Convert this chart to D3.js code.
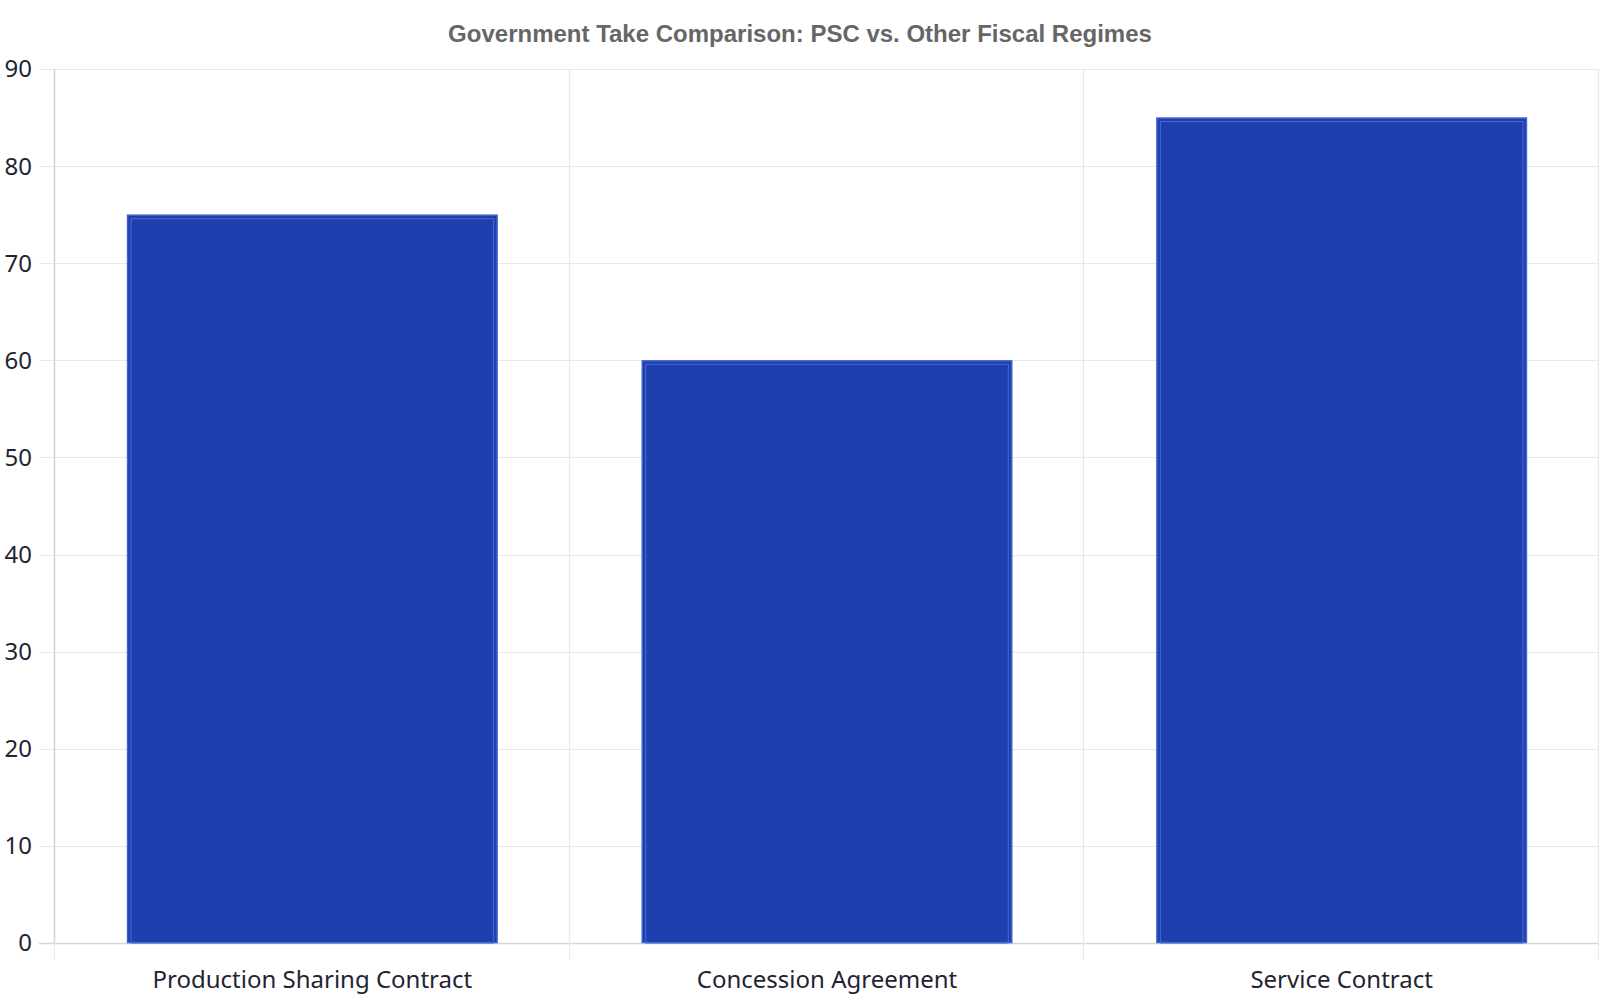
<!DOCTYPE html>
<html>
<head>
<meta charset="utf-8">
<script src="https://cdn.jsdelivr.net/npm/d3@7"></script>
<style>
html,body{margin:0;padding:0;background:#fff;}
svg{display:block;}
</style>
</head>
<body>
<svg id="chart" width="1600" height="1000"></svg>
<script>
const categories = ["Production Sharing Contract", "Concession Agreement", "Service Contract"];
const governmentTake = [75, 60, 85];
const yTicks = [0, 10, 20, 30, 40, 50, 60, 70, 80, 90];
const titleText = "Government Take Comparison: PSC vs. Other Fiscal Regimes";

const W = 1600, H = 1000;
const m = {left: 55, right: 1, top: 69, bottom: 57};
const svg = d3.select("#chart");

const x = d3.scaleBand().domain(categories).range([m.left, W - m.right]).paddingInner(0.28).paddingOuter(0.14);
const xb = d3.scaleBand().domain(categories).range([m.left, W - m.right]).padding(0);
const y = d3.scaleLinear().domain([0, 90]).range([H - m.bottom, m.top]);

// title
svg.append("text").attr("x", W / 2).attr("y", 42).attr("text-anchor", "middle")
  .attr("font-family", "'Liberation Sans', Arial, sans-serif").attr("font-weight", "bold")
  .attr("font-size", 24).attr("fill", "#666666").text(titleText);

// horizontal grid lines
const gGrid = svg.append("g");
gGrid.selectAll("line.h").data(yTicks).join("line")
  .attr("x1", 39).attr("x2", W - m.right)
  .attr("y1", d => Math.round(y(d)) + 0.5).attr("y2", d => Math.round(y(d)) + 0.5)
  .attr("stroke", d => d === 0 ? "#d6d6d6" : "#e8e8e8").attr("stroke-width", d => d === 0 ? 1.5 : 1.2);

// vertical grid lines at band boundaries
const boundaries = categories.map(c => xb(c)).concat([xb(categories[categories.length - 1]) + xb.bandwidth()]);
gGrid.selectAll("line.v").data(boundaries).join("line")
  .attr("x1", d => Math.round(d) - 0.5).attr("x2", d => Math.round(d) - 0.5)
  .attr("y1", m.top).attr("y2", H - m.bottom + 16)
  .attr("stroke", "#e8e8e8").attr("stroke-width", 1.2);
// left axis line
svg.append("line").attr("x1", m.left - 0.5).attr("x2", m.left - 0.5)
  .attr("y1", m.top).attr("y2", y(0)).attr("stroke", "#d3d3d3").attr("stroke-width", 1.5);

// y tick labels
svg.append("g").selectAll("text").data(yTicks).join("text")
  .attr("x", 32).attr("y", d => y(d)).attr("dy", "0.35em").attr("text-anchor", "end")
  .attr("font-family", "'Noto Sans', 'Open Sans', sans-serif").attr("font-size", 24)
  .attr("fill", "#1f2433").text(d => d);

// bars
const data = categories.map((c, i) => ({c, v: governmentTake[i]}));
const bars = svg.append("g");
bars.selectAll("rect.bar").data(data).join("rect")
  .attr("x", d => x(d.c) + 0.5).attr("y", d => y(d.v) + 0.5)
  .attr("width", x.bandwidth() - 1).attr("height", d => y(0) - y(d.v) - 1)
  .attr("fill", "#1e40af").attr("stroke", "#4262d2").attr("stroke-width", 1.5);
bars.selectAll("rect.inner").data(data).join("rect")
  .attr("x", d => x(d.c) + 4).attr("y", d => y(d.v) + 4)
  .attr("width", x.bandwidth() - 8).attr("height", d => y(0) - y(d.v) - 4)
  .attr("fill", "none").attr("stroke", "#4a68d4").attr("stroke-width", 1);

// x labels
svg.append("g").selectAll("text").data(categories).join("text")
  .attr("x", d => xb(d) + xb.bandwidth() / 2).attr("y", 988).attr("text-anchor", "middle")
  .attr("font-family", "'Noto Sans', 'Open Sans', sans-serif").attr("font-size", 24)
  .attr("fill", "#1f2433").text(d => d);
</script>
</body>
</html>
